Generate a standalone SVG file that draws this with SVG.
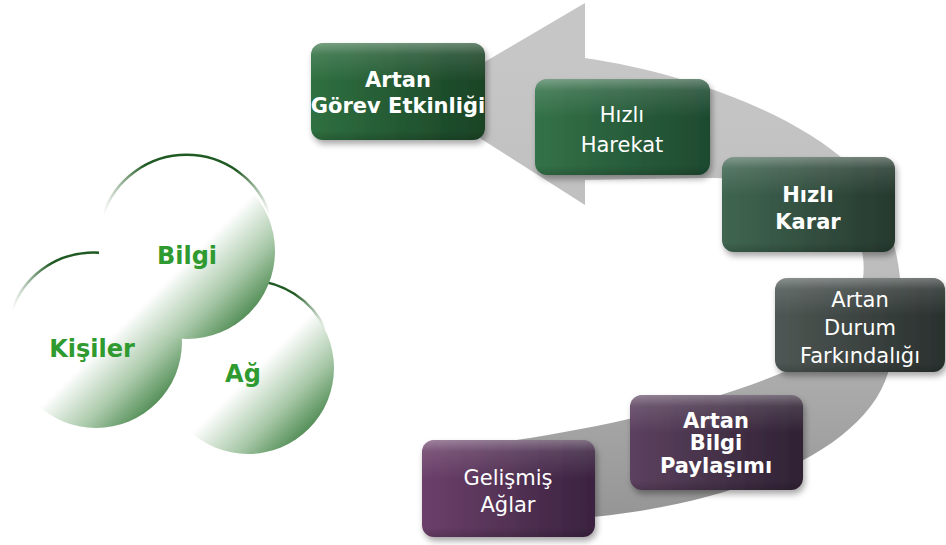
<svg xmlns="http://www.w3.org/2000/svg" width="946" height="545" viewBox="0 0 946 545">
<style>
.t{font-family:"DejaVu Sans","Verdana",sans-serif;font-size:21px;fill:#ffffff;text-anchor:middle}
.b{font-weight:bold}
.c{font-family:"DejaVu Sans","Verdana",sans-serif;font-size:24px;font-weight:bold;fill:#2f9a2f;text-anchor:middle}
.box{filter:url(#sh)}
.gloss{fill:url(#gl)}
.arc{fill:none;stroke:url(#arcg);stroke-width:2.5}
</style>
<defs>
<filter id="sh" x="-10%" y="-10%" width="125%" height="130%">
<feDropShadow dx="2" dy="4" stdDeviation="3" flood-color="#000" flood-opacity="0.35"/>
</filter>
<linearGradient id="arrowg" gradientUnits="userSpaceOnUse" x1="0" y1="60" x2="0" y2="520">
<stop offset="0" stop-color="#c6c6c6"/>
<stop offset="0.45" stop-color="#bdbdbd"/>
<stop offset="1" stop-color="#959595"/>
</linearGradient>
<linearGradient id="g1" x1="0" y1="0" x2="1" y2="0">
<stop offset="0" stop-color="#2f7040"/><stop offset="1" stop-color="#1a4326"/>
</linearGradient>
<linearGradient id="g2" x1="0" y1="0" x2="1" y2="0">
<stop offset="0" stop-color="#337248"/><stop offset="1" stop-color="#1e4a2f"/>
</linearGradient>
<linearGradient id="g3" x1="0" y1="0" x2="1" y2="0">
<stop offset="0" stop-color="#3f6651"/><stop offset="1" stop-color="#26392e"/>
</linearGradient>
<linearGradient id="g4" x1="0" y1="0" x2="1" y2="0">
<stop offset="0" stop-color="#4e5754"/><stop offset="1" stop-color="#2a302e"/>
</linearGradient>
<linearGradient id="g5" x1="0" y1="0" x2="1" y2="0">
<stop offset="0" stop-color="#5c415f"/><stop offset="1" stop-color="#2f2233"/>
</linearGradient>
<linearGradient id="g6" x1="0" y1="0" x2="1" y2="0">
<stop offset="0" stop-color="#6c406a"/><stop offset="1" stop-color="#3a2340"/>
</linearGradient>
<linearGradient id="gl" x1="0" y1="0" x2="0" y2="1">
<stop offset="0" stop-color="#ffffff" stop-opacity="0.35"/>
<stop offset="0.12" stop-color="#ffffff" stop-opacity="0.12"/>
<stop offset="0.4" stop-color="#ffffff" stop-opacity="0"/>
<stop offset="0.9" stop-color="#000000" stop-opacity="0"/>
<stop offset="1" stop-color="#000000" stop-opacity="0.15"/>
</linearGradient>
<linearGradient id="cg" x1="0.15" y1="0.15" x2="0.9" y2="0.9">
<stop offset="0" stop-color="#ffffff"/>
<stop offset="0.5" stop-color="#ffffff"/>
<stop offset="0.75" stop-color="#a9c9a9"/>
<stop offset="1" stop-color="#3a7d3e"/>
</linearGradient>
<linearGradient id="arcg" x1="0" y1="0" x2="1" y2="0">
<stop offset="0" stop-color="#1f5a22" stop-opacity="0"/>
<stop offset="0.25" stop-color="#1f5a22" stop-opacity="1"/>
<stop offset="0.8" stop-color="#1f5a22" stop-opacity="1"/>
<stop offset="1" stop-color="#1f5a22" stop-opacity="0"/>
</linearGradient>
</defs>

<g id="connectors">
<path id="cycle-arrow" fill="url(#arrowg)" d="M585,58 C680,72 790,110 850,165 C895,210 915,290 890,365 C875,440 760,500 593,517 L470,530 L470,447 L530,438 C640,420 740,395 805,362 C870,320 880,250 840,210 C800,180 740,178 700,178 L585,180 L585,205 L420,100 L585,3 Z"/>
</g>

<g id="circles">
<g id="circle-ag">
<circle cx="248" cy="368" r="86" fill="url(#cg)"/>
<path class="arc" d="M170,330 A86,86 0 0 1 326,330"/>
<text class="c" x="243" y="382">Ağ</text>
</g>
<g id="circle-kisiler">
<circle cx="96" cy="342" r="86" fill="url(#cg)"/>
<path class="arc" d="M12,310 A86,86 0 0 1 170,300"/>
<text class="c" x="92" y="357">Kişiler</text>
</g>
<g id="circle-bilgi">
<circle cx="187" cy="251" r="88" fill="url(#cg)"/>
<path class="arc" d="M103,215 A88,88 0 0 1 270,215"/>
<text class="c" x="187" y="264">Bilgi</text>
</g>
</g>

<g id="node-gorev">
<rect class="box" x="311" y="43" width="174" height="97" rx="12" fill="url(#g1)"/>
<rect class="gloss" x="311" y="43" width="174" height="97" rx="12"/>
<text class="t b" x="398" y="87">Artan</text>
<text class="t b" x="398" y="113">Görev Etkinliği</text>
</g>
<g id="node-harekat">
<rect class="box" x="535" y="79" width="175" height="96" rx="12" fill="url(#g2)"/>
<rect class="gloss" x="535" y="79" width="175" height="96" rx="12"/>
<text class="t" x="622" y="122">Hızlı</text>
<text class="t" x="622" y="152">Harekat</text>
</g>
<g id="node-karar">
<rect class="box" x="722" y="157" width="173" height="95" rx="12" fill="url(#g3)"/>
<rect class="gloss" x="722" y="157" width="173" height="95" rx="12"/>
<text class="t b" x="808" y="202">Hızlı</text>
<text class="t b" x="808" y="229">Karar</text>
</g>
<g id="node-durum">
<rect class="box" x="775" y="278" width="170" height="94" rx="12" fill="url(#g4)"/>
<rect class="gloss" x="775" y="278" width="170" height="94" rx="12"/>
<text class="t" x="860" y="307">Artan</text>
<text class="t" x="860" y="335">Durum</text>
<text class="t" x="860" y="363">Farkındalığı</text>
</g>
<g id="node-paylasim">
<rect class="box" x="630" y="395" width="173" height="95" rx="12" fill="url(#g5)"/>
<rect class="gloss" x="630" y="395" width="173" height="95" rx="12"/>
<text class="t b" x="716" y="428">Artan</text>
<text class="t b" x="716" y="450">Bilgi</text>
<text class="t b" x="716" y="473">Paylaşımı</text>
</g>
<g id="node-aglar">
<rect class="box" x="422" y="440" width="173" height="97" rx="12" fill="url(#g6)"/>
<rect class="gloss" x="422" y="440" width="173" height="97" rx="12"/>
<text class="t" x="508" y="485">Gelişmiş</text>
<text class="t" x="508" y="512">Ağlar</text>
</g>
</svg>
